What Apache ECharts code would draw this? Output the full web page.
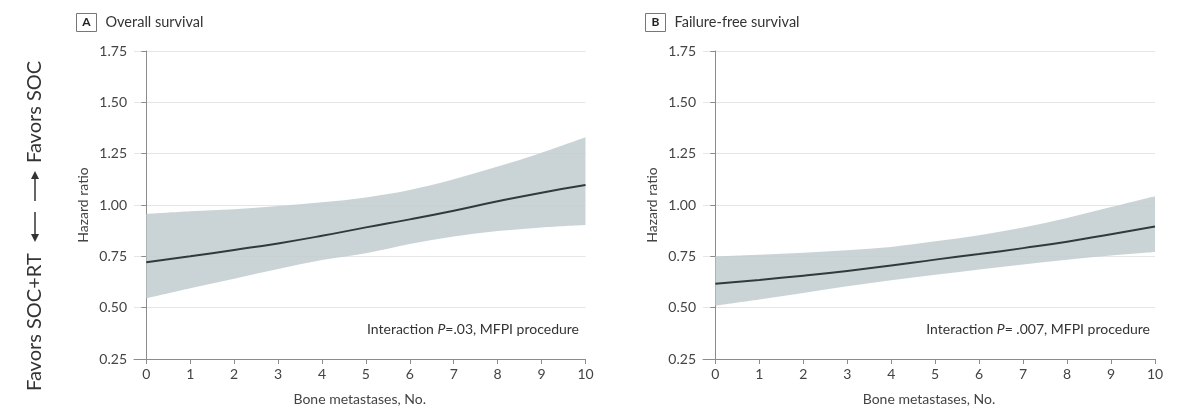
<!DOCTYPE html>
<html>
<head>
<meta charset="utf-8">
<script src="https://cdn.jsdelivr.net/npm/echarts@6/dist/echarts.min.js"></script>
<style>
  html, body { margin: 0; padding: 0; background: #fff; }
  #chart { width: 1200px; height: 419px; }
</style>
</head>
<body>
<div id="chart"></div>
<script>
// bone metastases, No.
const xValues = [0, 1, 2, 3, 4, 5, 6, 7, 8, 9, 10]
const xTicks = [0, 1, 2, 3, 4, 5, 6, 7, 8, 9, 10]

// A: overall survival
const osHR = [0.721, 0.75, 0.781, 0.813, 0.85, 0.891, 0.93, 0.972, 1.018, 1.06, 1.097]
const osLower = [0.545, 0.594, 0.641, 0.688, 0.732, 0.765, 0.81, 0.846, 0.873, 0.891, 0.903]
const osUpper = [0.956, 0.969, 0.979, 0.995, 1.013, 1.037, 1.073, 1.125, 1.187, 1.255, 1.33]

// B: failure-free survival
const ffsHR = [0.616, 0.635, 0.656, 0.679, 0.705, 0.734, 0.761, 0.79, 0.821, 0.858, 0.895]
const ffsLower = [0.51, 0.54, 0.571, 0.604, 0.633, 0.66, 0.686, 0.71, 0.733, 0.754, 0.771]
const ffsUpper = [0.75, 0.758, 0.768, 0.78, 0.796, 0.823, 0.853, 0.89, 0.937, 0.99, 1.043]

const FONT = 'Lato'
const bandColor = 'rgba(195,206,208,0.88)'
const lineColor = '#2f3b3b'
const axisColor = '#8c8c8c'
const textColor = '#444'

const chart = echarts.init(document.getElementById('chart'))

const pairs = (ys) => xValues.map((x, i) => [x, ys[i]])

// smooth curve through pixel points (catmull-rom -> bezier)
const curvePath = (pts, moveFirst) => {
  let d = (moveFirst ? 'M' : 'L') + pts[0][0] + ',' + pts[0][1]
  for (let i = 0; i < pts.length - 1; i++) {
    const p0 = pts[Math.max(i - 1, 0)]
    const p1 = pts[i]
    const p2 = pts[i + 1]
    const p3 = pts[Math.min(i + 2, pts.length - 1)]
    const c1 = [p1[0] + (p2[0] - p0[0]) / 6, p1[1] + (p2[1] - p0[1]) / 6]
    const c2 = [p2[0] - (p3[0] - p1[0]) / 6, p2[1] - (p3[1] - p1[1]) / 6]
    d += 'C' + c1[0] + ',' + c1[1] + ' ' + c2[0] + ',' + c2[1] + ' ' + p2[0] + ',' + p2[1]
  }
  return d
}

const makeX = (gridIndex) => ({
  type: 'value',
  gridIndex,
  min: -0.28,
  max: 10,
  name: 'Bone metastases, No.',
  nameLocation: 'middle',
  nameGap: 33,
  nameTextStyle: { fontFamily: FONT, fontSize: 14, color: textColor },
  axisLine: { lineStyle: { color: axisColor, width: 1 } },
  axisTick: { show: true, length: 5, customValues: xTicks, lineStyle: { color: axisColor } },
  axisLabel: { customValues: xTicks, fontFamily: FONT, fontSize: 14, color: textColor, margin: 8 },
  splitLine: { show: false }
})

const makeY = (gridIndex) => ({
  type: 'value',
  gridIndex,
  min: 0.25,
  max: 1.75,
  interval: 0.25,
  name: 'Hazard ratio',
  nameLocation: 'middle',
  nameGap: 44,
  nameRotate: 90,
  nameTextStyle: { fontFamily: FONT, fontSize: 14, color: textColor },
  axisLine: { show: true, lineStyle: { color: axisColor, width: 1 } },
  axisTick: { show: true, length: 5, lineStyle: { color: axisColor } },
  axisLabel: {
    fontFamily: FONT, fontSize: 14, color: textColor, margin: 7,
    formatter: (v) => v.toFixed(2)
  },
  splitLine: { show: true, lineStyle: { color: '#e6e6e6', width: 1 } }
})

const makeSeries = (idx, hr, lo, up) => [
  {
    type: 'custom',
    xAxisIndex: idx,
    yAxisIndex: idx,
    silent: true,
    data: xValues.map((x, i) => [x, lo[i], up[i]]),
    encode: { x: 0, y: [1, 2] },
    renderItem: (params, api) => {
      if (params.dataIndex !== 0) return null
      const upPts = xValues.map((x, i) => api.coord([x, up[i]]))
      const loPts = xValues.map((x, i) => api.coord([x, lo[i]])).reverse()
      const d = curvePath(upPts, true) + curvePath(loPts, false) + 'Z'
      return {
        type: 'path',
        shape: { pathData: d },
        style: { fill: bandColor, stroke: null }
      }
    },
    z: 2
  },
  {
    type: 'line',
    xAxisIndex: idx,
    yAxisIndex: idx,
    data: pairs(hr),
    smooth: true,
    symbol: 'none',
    lineStyle: { color: lineColor, width: 2 },
    z: 5
  }
]

const panelTitle = (x, letter, text) => ({
  type: 'group',
  left: x,
  top: 13,
  children: [
    {
      type: 'rect',
      shape: { x: 0, y: 0, width: 20, height: 18 },
      style: { fill: '#fff', stroke: '#777', lineWidth: 1 }
    },
    {
      type: 'text',
      x: 10, y: 9,
      style: {
        text: letter, fontFamily: FONT, fontSize: 12, fontWeight: 'bold',
        fill: '#222', align: 'center', verticalAlign: 'middle'
      }
    },
    {
      type: 'text',
      x: 29, y: 9,
      style: {
        text: text, fontFamily: FONT, fontSize: 14.5, fill: '#333',
        align: 'left', verticalAlign: 'middle'
      }
    }
  ]
})

const note = (x, pText) => ({
  type: 'text',
  x: x,
  y: 329,
  style: {
    text: '{n|Interaction }{i|P}{n|=' + pText + ', MFPI procedure}',
    align: 'right',
    verticalAlign: 'middle',
    rich: {
      n: { fontFamily: FONT, fontSize: 14, fill: '#333' },
      i: { fontFamily: FONT, fontSize: 14, fill: '#333', fontStyle: 'italic' }
    }
  }
})

const option = {
  backgroundColor: '#fff',
  animation: false,
  grid: [
    { left: 134, top: 51, width: 451.5, height: 308 },
    { left: 703, top: 51, width: 452, height: 308 }
  ],
  xAxis: [makeX(0), makeX(1)],
  yAxis: [makeY(0), makeY(1)],
  series: [
    ...makeSeries(0, osHR, osLower, osUpper),
    ...makeSeries(1, ffsHR, ffsLower, ffsUpper)
  ],
  graphic: [
    panelTitle(76, 'A', 'Overall survival'),
    panelTitle(645, 'B', 'Failure-free survival'),
    note(579, '.03'),
    note(1150, ' .007'),
    // left side direction label
    {
      type: 'text',
      x: 35, y: 391,
      rotation: Math.PI / 2,
      style: {
        text: 'Favors SOC+RT', fontFamily: FONT, fontSize: 20, fill: '#333',
        align: 'left', verticalAlign: 'middle'
      }
    },
    {
      type: 'text',
      x: 35, y: 163,
      rotation: Math.PI / 2,
      style: {
        text: 'Favors SOC', fontFamily: FONT, fontSize: 20, fill: '#333',
        align: 'left', verticalAlign: 'middle'
      }
    },
    // arrows
    { type: 'line', shape: { x1: 35, y1: 212, x2: 35, y2: 236 }, style: { stroke: '#333', lineWidth: 1.5 } },
    { type: 'polygon', shape: { points: [[31, 234], [39, 234], [35, 242]] }, style: { fill: '#333' } },
    { type: 'line', shape: { x1: 35, y1: 201, x2: 35, y2: 177 }, style: { stroke: '#333', lineWidth: 1.5 } },
    { type: 'polygon', shape: { points: [[31, 179], [39, 179], [35, 171]] }, style: { fill: '#333' } }
  ]
}

chart.setOption(option)
window.addEventListener('resize', () => chart.resize())
</script>
</body>
</html>
